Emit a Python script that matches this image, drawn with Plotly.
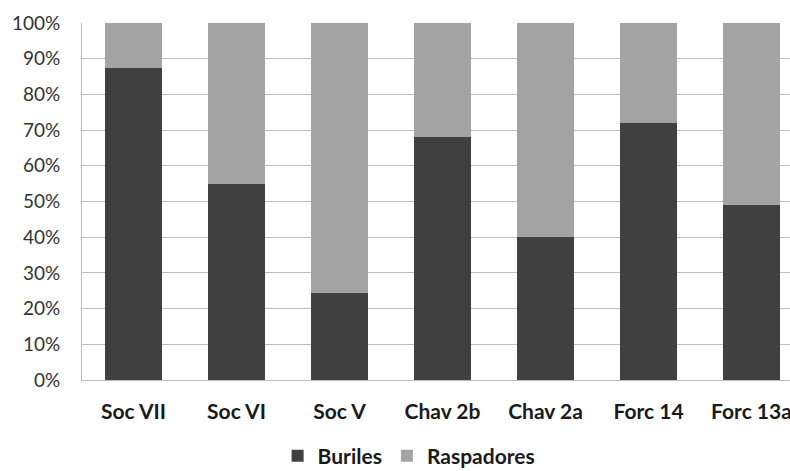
import plotly.graph_objects as go

# Share of each tool type per level (percent)
categories = ["Soc VII", "Soc VI", "Soc V", "Chav 2b", "Chav 2a", "Forc 14", "Forc 13a"]
buriles = [87.5, 55, 24.5, 68, 40, 72, 49]
raspadores = [100 - v for v in buriles]
y_ticks = [0, 10, 20, 30, 40, 50, 60, 70, 80, 90, 100]
y_tick_text = [f"{v}%" for v in y_ticks]

W, H = 790, 471
left, top, bottom = 82, 23, 91
cat_px = 103  # pixel width of one category slot

fig = go.Figure()
fig.add_trace(go.Bar(name="Buriles", x=categories, y=buriles,
                     marker=dict(color="#404040", line=dict(width=0))))
fig.add_trace(go.Bar(name="Raspadores", x=categories, y=raspadores,
                     marker=dict(color="#a3a3a3", line=dict(width=0))))

plot_w = W - left
x_end = -0.5 + plot_w / cat_px

fig.update_layout(
    barmode="stack",
    bargap=0.445,
    width=W, height=H,
    margin=dict(l=left, r=0, t=top, b=bottom, pad=0, autoexpand=False),
    paper_bgcolor="white",
    plot_bgcolor="white",
    font=dict(family="Lato, Open Sans, sans-serif", color="#262626"),
    showlegend=True,
    legend=dict(orientation="h", x=0.462, xanchor="center",
                yref="container", y=(H - 456) / H, yanchor="middle",
                font=dict(size=21, family="Lato, sans-serif", color="#1a1a1a", weight="bold"),
                itemwidth=30, traceorder="normal"),
    xaxis=dict(range=[-0.5, x_end], showgrid=False, showline=True, linecolor="#bdbdbd",
               linewidth=1, ticks="", tickfont=dict(size=21, weight="bold", color="#1a1a1a"),
               ticklabelstandoff=13, fixedrange=True, automargin=False),
    yaxis=dict(range=[0, 100], tickvals=y_ticks, ticktext=y_tick_text,
               showgrid=True, gridcolor="#bdbdbd", gridwidth=1,
               showline=True, linecolor="#bdbdbd", linewidth=1, ticks="",
               tickfont=dict(size=19, color="#333333"), ticklabelstandoff=17,
               zeroline=False, fixedrange=True, automargin=False),
)

fig.write_html("out.html")
